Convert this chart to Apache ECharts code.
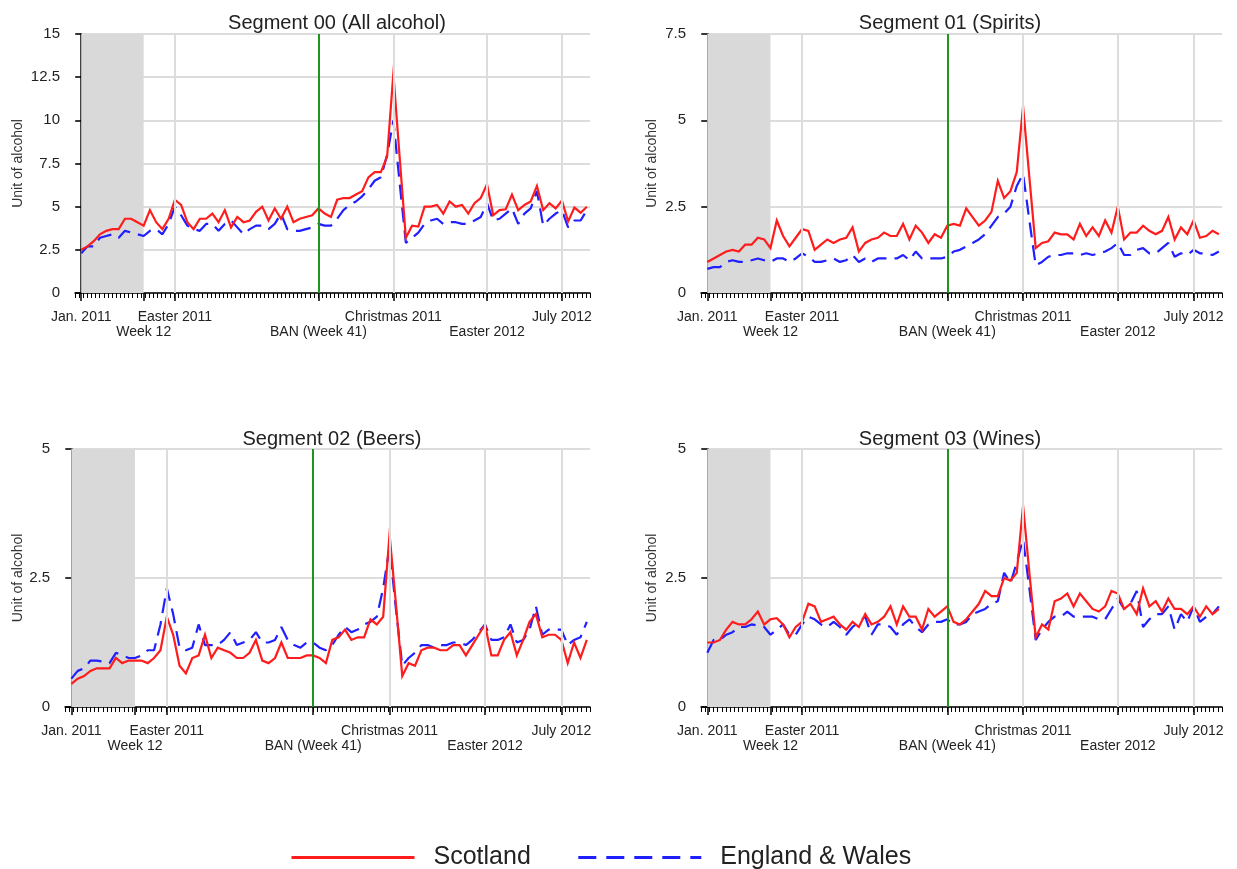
<!DOCTYPE html>
<html><head><meta charset="utf-8">
<script src="https://cdn.jsdelivr.net/npm/echarts@6/dist/echarts.min.js"></script>
<style>html,body{margin:0;padding:0;background:#fff}#c{width:1237px;height:869px}</style>
</head><body><div id="c"></div>
<script>
// x positions: weekly observations, Jan 2011 = 0
const weekIndex = Array.from({length: 82}, (_, i) => i);
// labelled ticks on the time axis
const tickPos  = [0, 10, 15, 38, 50, 65, 77];
const tickText = ['Jan. 2011', 'Week 12', 'Easter 2011', 'BAN (Week 41)', 'Christmas 2011', 'Easter 2012', 'July 2012'];
const tickRow  = [1, 2, 1, 2, 1, 2, 1];
const vGridPos = [15, 50, 65, 77];
const banPos = 38;
const shadeRange = [0, 10];

const panelTitles = ['Segment 00 (All alcohol)', 'Segment 01 (Spirits)', 'Segment 02 (Beers)', 'Segment 03 (Wines)'];
const yMaxes = [15, 7.5, 5, 5];
const seriesNames = ['Scotland', 'England & Wales'];

const scotAll = [2.5,2.7,3.0,3.4,3.6,3.7,3.7,4.3,4.3,4.1,3.9,
 4.8,4.1,3.7,4.3,5.4,5.1,4.1,3.7,4.3,4.3,
 4.6,4.1,4.8,3.8,4.4,4.1,4.2,4.7,5.0,4.2,
 4.9,4.3,5.0,4.1,4.3,4.4,4.5,4.9,4.6,4.4,
 5.4,5.5,5.5,5.7,5.9,6.7,7.0,7.0,7.9,12.7,
 7.9,3.2,3.9,3.85,5.0,5.0,5.1,4.6,5.3,5.0,
 5.1,4.6,5.2,5.5,6.3,4.5,4.8,4.85,5.7,4.8,
 5.1,5.3,6.2,4.8,5.2,4.9,5.35,4.15,4.95,4.65,5.0];
const ewAll = [2.3,2.7,2.7,3.2,3.3,3.4,3.2,3.6,3.5,3.4,3.3,
 3.6,3.7,3.4,4.0,5.0,4.5,3.9,3.7,3.6,4.0,
 4.0,3.6,4.0,4.2,3.8,3.4,3.7,3.9,3.9,3.7,
 4.0,4.6,3.7,3.6,3.6,3.7,3.8,4.0,3.9,3.9,
 4.3,4.8,5.1,5.3,5.6,6.0,6.5,6.7,8.0,10.0,
 6.4,2.9,3.2,3.5,4.0,4.2,4.3,4.0,4.1,4.1,
 4.0,4.0,4.2,4.4,5.2,4.2,4.3,4.6,4.9,4.0,
 4.6,4.9,5.9,3.9,4.3,4.6,4.8,3.8,4.2,4.2,4.8];
const scotSpirits = [0.9,1.0,1.1,1.2,1.25,1.2,1.4,1.4,1.6,1.55,1.3,
 2.1,1.65,1.35,1.6,1.85,1.8,1.25,1.4,1.55,1.45,
 1.55,1.6,1.9,1.2,1.45,1.55,1.6,1.75,1.65,1.65,
 2.0,1.55,1.95,1.75,1.45,1.7,1.6,1.95,2.0,1.95,
 2.45,2.2,1.95,2.1,2.35,3.25,2.75,2.95,3.5,5.4,
 3.35,1.3,1.45,1.5,1.75,1.7,1.7,1.55,2.0,1.65,
 1.9,1.65,2.1,1.75,2.5,1.55,1.75,1.75,1.95,1.8,
 1.7,1.8,2.2,1.55,1.9,1.7,2.1,1.6,1.65,1.8,1.7];
const ewSpirits = [0.7,0.75,0.75,0.9,0.95,0.9,0.9,0.95,1.0,0.95,0.9,
 1.0,1.0,0.9,1.0,1.15,1.05,0.9,0.9,0.95,1.0,
 0.9,0.95,1.1,0.9,1.0,0.9,1.0,1.0,1.0,1.0,
 1.1,0.95,1.2,1.0,1.0,1.0,1.0,1.05,1.2,1.25,
 1.35,1.45,1.55,1.7,1.95,2.2,2.3,2.5,3.1,3.45,
 2.1,0.8,0.9,1.05,1.1,1.1,1.15,1.15,1.1,1.15,
 1.1,1.15,1.2,1.3,1.45,1.1,1.1,1.25,1.3,1.15,
 1.15,1.3,1.45,1.05,1.15,1.1,1.25,1.15,1.15,1.1,1.2];
const scotBeers = [0.45,0.55,0.6,0.7,0.75,0.75,0.75,0.95,0.85,0.9,0.9,
 0.9,0.85,0.95,1.1,1.75,1.4,0.8,0.65,0.95,1.0,
 1.4,0.95,1.15,1.1,1.05,0.95,0.95,1.05,1.3,0.9,
 0.85,0.95,1.25,0.95,0.95,0.95,1.0,1.0,0.95,0.85,
 1.3,1.35,1.5,1.3,1.35,1.35,1.7,1.6,1.75,3.35,
 2.0,0.6,0.85,0.8,1.1,1.15,1.15,1.1,1.1,1.2,
 1.2,1.0,1.2,1.4,1.6,1.0,1.0,1.3,1.45,1.0,
 1.3,1.65,1.8,1.35,1.4,1.4,1.3,0.85,1.25,0.95,1.3];
const ewBeers = [0.55,0.7,0.75,0.9,0.9,0.88,0.85,1.05,1.0,0.95,0.95,
 1.0,1.1,1.1,1.6,2.3,1.8,1.15,1.1,1.15,1.6,
 1.2,1.2,1.2,1.3,1.45,1.2,1.25,1.3,1.45,1.25,
 1.25,1.3,1.55,1.3,1.2,1.15,1.25,1.25,1.15,1.1,
 1.2,1.4,1.55,1.45,1.5,1.6,1.65,1.75,2.3,3.1,
 1.9,0.8,0.95,1.05,1.2,1.2,1.15,1.2,1.2,1.25,
 1.25,1.2,1.3,1.45,1.6,1.3,1.3,1.35,1.6,1.25,
 1.3,1.5,1.95,1.4,1.5,1.5,1.5,1.2,1.3,1.35,1.65];
const scotWines = [1.25,1.25,1.3,1.5,1.65,1.6,1.6,1.7,1.85,1.6,1.7,
 1.72,1.6,1.35,1.55,1.65,2.0,1.95,1.65,1.7,1.75,
 1.6,1.5,1.65,1.55,1.8,1.6,1.65,1.75,1.95,1.6,
 1.95,1.75,1.75,1.5,1.9,1.75,1.85,1.95,1.65,1.6,
 1.7,1.85,2.0,2.25,2.15,2.15,2.5,2.45,2.6,3.9,
 2.6,1.35,1.6,1.5,2.05,2.1,2.2,1.95,2.2,2.05,
 1.9,1.85,1.95,2.25,2.2,1.9,2.0,1.8,2.3,1.95,
 2.05,1.85,2.1,1.9,1.9,1.8,1.95,1.75,1.95,1.8,1.9];
const ewWines = [1.05,1.3,1.3,1.4,1.45,1.55,1.55,1.6,1.58,1.55,1.4,
 1.5,1.6,1.4,1.4,1.6,1.75,1.7,1.6,1.55,1.65,
 1.55,1.4,1.55,1.65,1.75,1.4,1.6,1.6,1.55,1.4,
 1.6,1.7,1.55,1.45,1.6,1.65,1.65,1.7,1.6,1.6,
 1.65,1.8,1.85,1.9,2.0,2.05,2.6,2.4,2.8,3.25,
 2.3,1.3,1.5,1.65,1.75,1.75,1.85,1.75,1.75,1.75,
 1.75,1.7,1.7,1.9,2.1,1.9,2.0,2.25,1.55,1.7,
 1.8,1.8,1.95,1.5,1.8,1.65,1.95,1.65,1.75,1.8,1.95];

const scotData = [scotAll, scotSpirits, scotBeers, scotWines];
const ewData = [ewAll, ewSpirits, ewBeers, ewWines];

// layout (styles kept separate from data)
const grids = [
  {left: 75, right: 647, top: 34, bottom: 576},
  {left: 701, right: 15, top: 34, bottom: 576},
  {left: 65, right: 647, top: 449, bottom: 162},
  {left: 701, right: 15, top: 449, bottom: 162}
];
const titlePos = [[332, 8], [945, 8], [327, 424], [945, 424]];
const nameGaps = [50, 42, 40, 42];
const X_MIN = -1, X_MAX = 81.5;
const minorTicks = [];
for (let v = X_MIN; v <= X_MAX + 1e-6; v += 0.66) minorTicks.push(+v.toFixed(3));

const FONT = 'Liberation Sans, Arial, Helvetica, sans-serif';
const RED = '#ff1c1c', BLUE = '#1f1fff';
const DASH = [15, 8];

const option = {
  animation: false,
  backgroundColor: '#fff',
  textStyle: {fontFamily: FONT},
  title: panelTitles.map((t, k) => ({
    text: t, left: titlePos[k][0], top: titlePos[k][1], textAlign: 'center',
    textStyle: {fontSize: 20, fontWeight: 'normal', color: '#222', fontFamily: FONT}
  })),
  legend: {
    data: [
      {name: seriesNames[0], lineStyle: {width: 3, type: 'solid'}},
      {name: seriesNames[1], lineStyle: {width: 3, type: [18, 10]}}
    ],
    left: 285, top: 840, itemWidth: 123, itemHeight: 26, itemGap: 46,
    itemStyle: {opacity: 0},
    textStyle: {fontSize: 25, color: '#222', fontFamily: FONT, padding: [0, 0, 0, 14]}
  },
  grid: grids.map(g => Object.assign({containLabel: false, outerBoundsMode: 'none'}, g)),
  xAxis: [],
  yAxis: [],
  series: []
};

grids.forEach((g, k) => {
  option.xAxis.push({
    type: 'value', gridIndex: k, min: X_MIN, max: X_MAX, position: 'bottom',
    axisLine: {show: true, onZero: false, lineStyle: {color: '#000', width: 1.5}},
    axisTick: {show: true, length: 8, customValues: tickPos, lineStyle: {color: '#000', width: 1.5}},
    axisLabel: {
      show: true, customValues: tickPos, margin: 17, fontSize: 14, lineHeight: 15, color: '#222',
      fontFamily: FONT, verticalAlign: 'top',
      formatter: v => {
        const j = tickPos.indexOf(v);
        if (j < 0) return '';
        return tickRow[j] === 2 ? '\n' + tickText[j] : tickText[j];
      }
    },
    splitLine: {show: false}
  });
  option.xAxis.push({
    type: 'value', gridIndex: k, min: X_MIN, max: X_MAX, position: 'bottom',
    axisLine: {show: false, onZero: false},
    axisTick: {show: true, length: 5, customValues: minorTicks, lineStyle: {color: '#000', width: 1}},
    axisLabel: {show: false},
    splitLine: {show: false}
  });
  option.yAxis.push({
    type: 'value', gridIndex: k, min: 0, max: yMaxes[k], interval: 2.5,
    name: 'Unit of alcohol', nameLocation: 'middle', nameGap: nameGaps[k],
    nameTextStyle: {fontSize: 14, color: '#333', fontFamily: FONT},
    axisLine: {show: true, lineStyle: {color: '#000', width: 1.5}},
    axisTick: {show: true, length: 6, lineStyle: {color: '#000', width: 1.5}},
    axisLabel: {fontSize: 15, color: '#222', margin: 15, fontFamily: FONT},
    splitLine: {show: true, lineStyle: {color: '#dcdcdc', width: 2}}
  });
  // background markers: shaded pre-period, date grid lines and the ban line
  option.series.push({
    type: 'line', name: 'markers', xAxisIndex: 2 * k, yAxisIndex: k, data: [], z: 1, silent: true,
    markArea: {silent: true, itemStyle: {color: '#d9d9d9'},
      data: [[{xAxis: shadeRange[0]}, {xAxis: shadeRange[1]}]]},
    markLine: {silent: true, symbol: ['none', 'none'], label: {show: false},
      data: vGridPos.map(p => ({xAxis: p, lineStyle: {color: '#dcdcdc', width: 2, type: 'solid'}}))
        .concat([{xAxis: banPos, lineStyle: {color: '#1e961e', width: 2, type: 'solid'}}])}
  });
  option.series.push({
    type: 'line', name: seriesNames[0], xAxisIndex: 2 * k, yAxisIndex: k, z: 3,
    symbol: 'none', data: weekIndex.map((x, i) => [x, scotData[k][i]]),
    lineStyle: {color: RED, width: 2.2, join: 'miter', miterLimit: 20}, itemStyle: {color: RED}
  });
  option.series.push({
    type: 'line', name: seriesNames[1], xAxisIndex: 2 * k, yAxisIndex: k, z: 2,
    symbol: 'none', data: weekIndex.map((x, i) => [x, ewData[k][i]]),
    lineStyle: {color: BLUE, width: 2.2, type: DASH}, itemStyle: {color: BLUE}
  });
});

const chart = echarts.init(document.getElementById('c'), null, {renderer: 'canvas'});
chart.setOption(option);
</script>
</body></html>
